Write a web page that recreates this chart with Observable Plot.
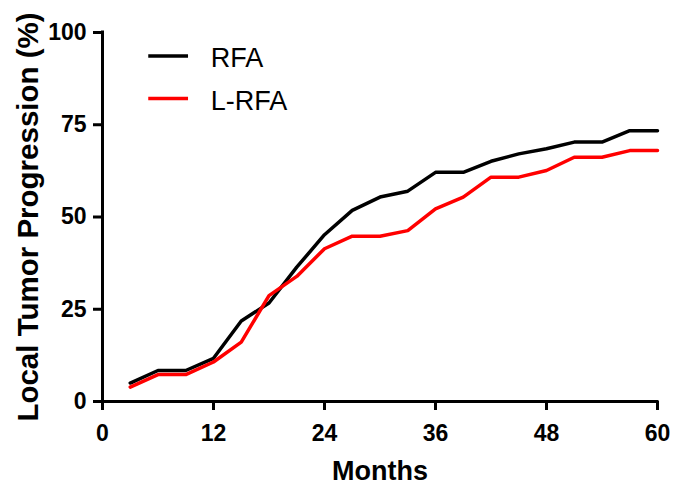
<!DOCTYPE html>
<html>
<head>
<meta charset="utf-8">
<script src="https://cdn.jsdelivr.net/npm/d3@7"></script>
<script src="https://cdn.jsdelivr.net/npm/@observablehq/plot@0.6"></script>
<style>
  html, body { margin: 0; padding: 0; background: #fff; }
</style>
</head>
<body>
<div id="chart"></div>
<script>
const months = [3, 6, 9, 12, 15, 18, 21, 24, 27, 30, 33, 36, 39, 42, 45, 48, 51, 54, 57, 60];
const rfa  = [5.0, 8.4, 8.4, 11.7, 21.8, 26.7, 36.4, 45.2, 51.8, 55.4, 57.0, 62.1, 62.1, 65.1, 67.1, 68.5, 70.3, 70.3, 73.4, 73.4];
const lrfa = [3.9, 7.3, 7.3, 10.7, 16.1, 28.7, 33.9, 41.4, 44.8, 44.8, 46.3, 52.2, 55.4, 60.8, 60.8, 62.6, 66.2, 66.2, 68.0, 68.0];
const seriesNames = ["RFA", "L-RFA"];
const seriesColors = ["#000000", "#ff0000"];
const xTicks = [0, 12, 24, 36, 48, 60];
const yTicks = [0, 25, 50, 75, 100];
const xLabel = "Months";
const yLabel = "Local Tumor Progression (%)";

const data = [];
months.forEach((m, i) => {
  data.push({month: m, value: rfa[i], series: seriesNames[0]});
  data.push({month: m, value: lrfa[i], series: seriesNames[1]});
});

const font = "'Liberation Sans', Arial, sans-serif";

// legend layout (in data units of the chart's scales)
const legendX1 = 5.0, legendX2 = 9.3, legendTextX = 11.7;
const legendRowY = [93.6, 82.1];
const legendTextY = [93.1, 81.4];
const legend = seriesNames.map((s, i) => ({series: s, color: seriesColors[i], y: legendRowY[i], ty: legendTextY[i]}));

const chart = Plot.plot({
  width: 675,
  height: 486,
  marginLeft: 102,
  marginRight: 18,
  marginTop: 32,
  marginBottom: 85,
  style: {fontFamily: font, background: "#fff", color: "#000"},
  x: {domain: [0, 60], ticks: xTicks},
  y: {domain: [0, 100], ticks: yTicks},
  color: {domain: seriesNames, range: seriesColors},
  marks: [
    Plot.axisY({ticks: yTicks, tickSize: 9, tickPadding: 7, fontSize: 23, fontWeight: "bold", strokeWidth: 3, label: null}),
    Plot.axisX({ticks: xTicks, tickSize: 9, tickPadding: 14, fontSize: 23, fontWeight: "bold", strokeWidth: 3, label: null}),
    Plot.ruleX([0], {y1: 0, y2: 100, strokeWidth: 3, strokeLinecap: "square"}),
    Plot.ruleY([0], {x1: 0, x2: 60, strokeWidth: 3, strokeLinecap: "square"}),
    Plot.line(data, {x: "month", y: "value", stroke: "series", z: "series", strokeWidth: 3.5, strokeLinejoin: "miter"}),
    Plot.ruleY(legend, {y: "y", x1: legendX1, x2: legendX2, stroke: "series", strokeWidth: 3.5}),
    Plot.text(legend, {x: legendTextX, y: "ty", text: "series", textAnchor: "start", lineAnchor: "middle", fontSize: 27, fontWeight: "normal"}),
    Plot.text([xLabel], {frameAnchor: "bottom", dy: 78, textAnchor: "middle", lineAnchor: "bottom", fontSize: 27, fontWeight: "bold", text: d => d}),
    Plot.text([yLabel], {frameAnchor: "left", dx: -65, rotate: -90, textAnchor: "middle", lineAnchor: "bottom", fontSize: 29.5, fontWeight: "bold", text: d => d})
  ]
});

document.getElementById("chart").appendChild(chart);
</script>
</body>
</html>
